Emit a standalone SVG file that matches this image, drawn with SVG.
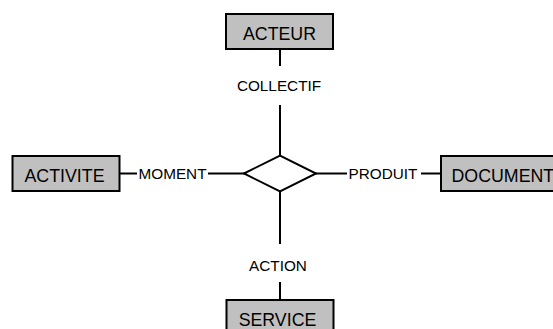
<svg xmlns="http://www.w3.org/2000/svg" width="553" height="329" viewBox="0 0 553 329">
  <style>
    .entity rect { fill: #c0c0c0; stroke: #000; stroke-width: 2; }
    .entity text { font-family: "Liberation Sans", Arial, sans-serif; font-size: 17.8px; fill: #000; }
    .link { stroke: #000; stroke-width: 2; fill: none; }
    .label { font-family: "Liberation Sans", Arial, sans-serif; font-size: 15.3px; fill: #000; text-anchor: middle; }
    .relation { fill: #fff; stroke: #000; stroke-width: 2; stroke-linejoin: miter; }
  </style>
  <rect width="553" height="329" fill="#fff"/>

  <!-- connectors and their role labels -->
  <g id="connectors">
    <line class="link" x1="280" y1="49" x2="280" y2="66"/>
    <line class="link" x1="280" y1="105" x2="280" y2="156"/>
    <line class="link" x1="280" y1="191" x2="280" y2="244"/>
    <line class="link" x1="280" y1="282" x2="280" y2="300"/>
    <line class="link" x1="119" y1="173.5" x2="137" y2="173.5"/>
    <line class="link" x1="208" y1="173.5" x2="245" y2="173.5"/>
    <line class="link" x1="315" y1="173.5" x2="347" y2="173.5"/>
    <line class="link" x1="421" y1="173.5" x2="441" y2="173.5"/>
    <text class="label" x="279" y="91">COLLECTIF</text>
    <text class="label" x="278" y="270.5">ACTION</text>
    <text class="label" x="172.5" y="179">MOMENT</text>
    <text class="label" x="383" y="179">PRODUIT</text>
  </g>

  <!-- association -->
  <g id="relation">
    <polygon class="relation" points="244,173.5 280,155.5 316,173.5 280,191.5"/>
  </g>

  <!-- entities -->
  <g id="acteur" class="entity">
    <rect x="226" y="14" width="107" height="35"/>
    <text x="279.5" y="39.5" text-anchor="middle">ACTEUR</text>
  </g>
  <g id="activite" class="entity">
    <rect x="12.5" y="156" width="107" height="35"/>
    <text x="64.5" y="182" text-anchor="middle">ACTIVITE</text>
  </g>
  <g id="document" class="entity">
    <rect x="441" y="156" width="124" height="35"/>
    <text x="451.5" y="182">DOCUMENT</text>
  </g>
  <g id="service" class="entity">
    <rect x="226.5" y="300" width="107" height="35"/>
    <text x="277.5" y="326" text-anchor="middle">SERVICE</text>
  </g>
</svg>
